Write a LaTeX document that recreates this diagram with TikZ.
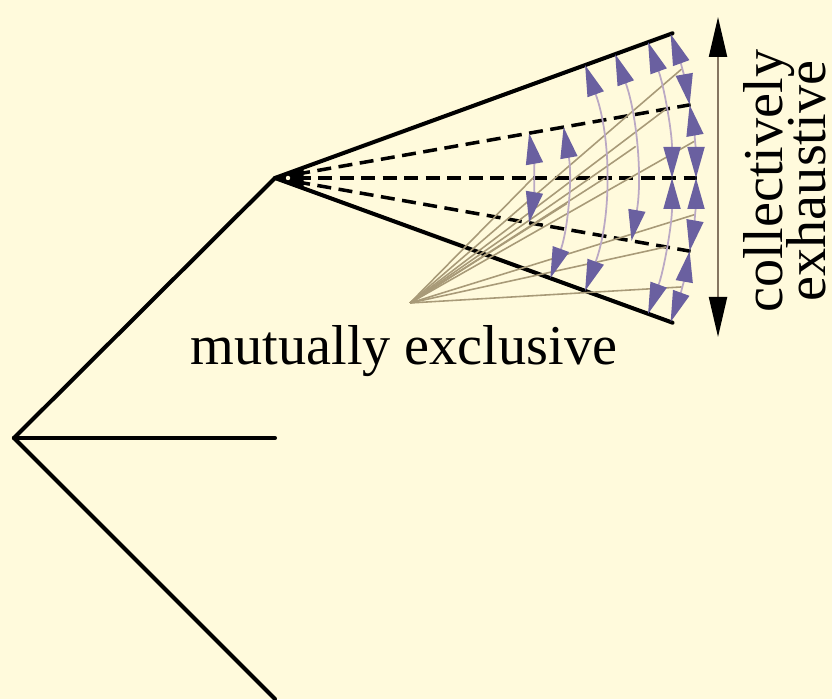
\documentclass[tikz,border=0pt]{standalone}
\usepackage{fontspec}
\setmainfont{Liberation Serif}
\usetikzlibrary{arrows.meta,calc}
\definecolor{paper}{HTML}{FFFADC}
\definecolor{pairpurple}{HTML}{6A60A0}
\definecolor{arcshaft}{HTML}{BBA9C4}
\definecolor{spoketan}{HTML}{A89A78}
\definecolor{rulebrown}{HTML}{857560}

\begin{document}
\begin{tikzpicture}[
    font=\fontsize{16}{18}\selectfont,
    branch/.style={line width=1.15pt, draw=black, line cap=round},
    option/.style={line width=1pt, draw=black, dash pattern=on 1.4mm off 0.75mm},
    pairarrow/.style={<->, >={Triangle[length=3.1mm,width=1.7mm,color=pairpurple]},
      draw=arcshaft, line width=0.5pt},
    spoke/.style={draw=spoketan, line width=0.45pt},
    rangearrow/.style={<->, >={Triangle[length=4mm,width=1.8mm,color=black]},
      draw=rulebrown, line width=0.6pt}
  ]
    \fill[paper] (0,0) rectangle (8.32,6.99);
    \useasboundingbox (0,0) rectangle (8.32,6.99);

    % tree on the left
    \coordinate (root) at (0.14,2.61);
    \coordinate (apex) at (2.75,5.21);
    \coordinate (midleaf) at (2.75,2.61);
    \coordinate (lowleaf) at (2.75,0);
    \draw[branch] (root) -- (apex);
    \draw[branch] (root) -- (midleaf);
    \draw[branch] (root) -- (lowleaf);

    % fan of outcomes
    \coordinate (ray1) at ($(apex)+(20:4.23)$);
    \coordinate (ray2) at ($(apex)+(10:4.22)$);
    \coordinate (ray3) at ($(apex)+(0:4.22)$);
    \coordinate (ray4) at ($(apex)+(-10:4.22)$);
    \coordinate (ray5) at ($(apex)+(-20:4.23)$);
    \draw[branch] (apex) -- (ray1);
    \draw[branch] (apex) -- (ray5);
    \draw[option] (apex) -- (ray2);
    \draw[option] (apex) -- (ray3);
    \draw[option] (apex) -- (ray4);
    \fill[black] (apex) -- ($(apex)+(18:0.3)$) -- ($(apex)+(-18:0.3)$) -- cycle;
    \fill[paper] ($(apex)+(0.13,0)$) circle (0.022);

    % pairwise exclusions
    \coordinate (mex) at (4.10,3.96);
    \foreach \a/\b/\r [count=\i] in {10/-10/2.58, 10/-20/2.93, 20/-20/3.30, 20/-10/3.62,
        20/0/3.97, 0/-20/3.97, 20/10/4.21, 10/0/4.21, 0/-10/4.21, -10/-20/4.21} {
      \coordinate (pair\i) at ($(apex)+({(\a+\b)/2}:\r)$);
      \draw[spoke] (mex) -- (pair\i);
    }
    \foreach \a/\b/\r in {10/-10/2.58, 10/-20/2.93, 20/-20/3.30, 20/-10/3.62,
        20/0/3.97, 0/-20/3.97, 20/10/4.21, 10/0/4.21, 0/-10/4.21, -10/-20/4.21}
      \draw[pairarrow] ($(apex)+(\a:\r)$) arc[start angle=\a, end angle=\b, radius=\r];

    \node[anchor=base] (exclusive) at (4.04,3.34) {mutually exclusive};

    % exhaustive range
    \coordinate (rangetop) at (7.18,6.82);
    \coordinate (rangebot) at (7.18,3.62);
    \draw[rangearrow] (rangebot) -- (rangetop);
    \node[rotate=90, anchor=base] (collectively) at (7.82,5.18) {collectively};
    \node[rotate=90, anchor=base] (exhaustive) at (8.25,5.18) {exhaustive};
  \end{tikzpicture}
\end{document}
